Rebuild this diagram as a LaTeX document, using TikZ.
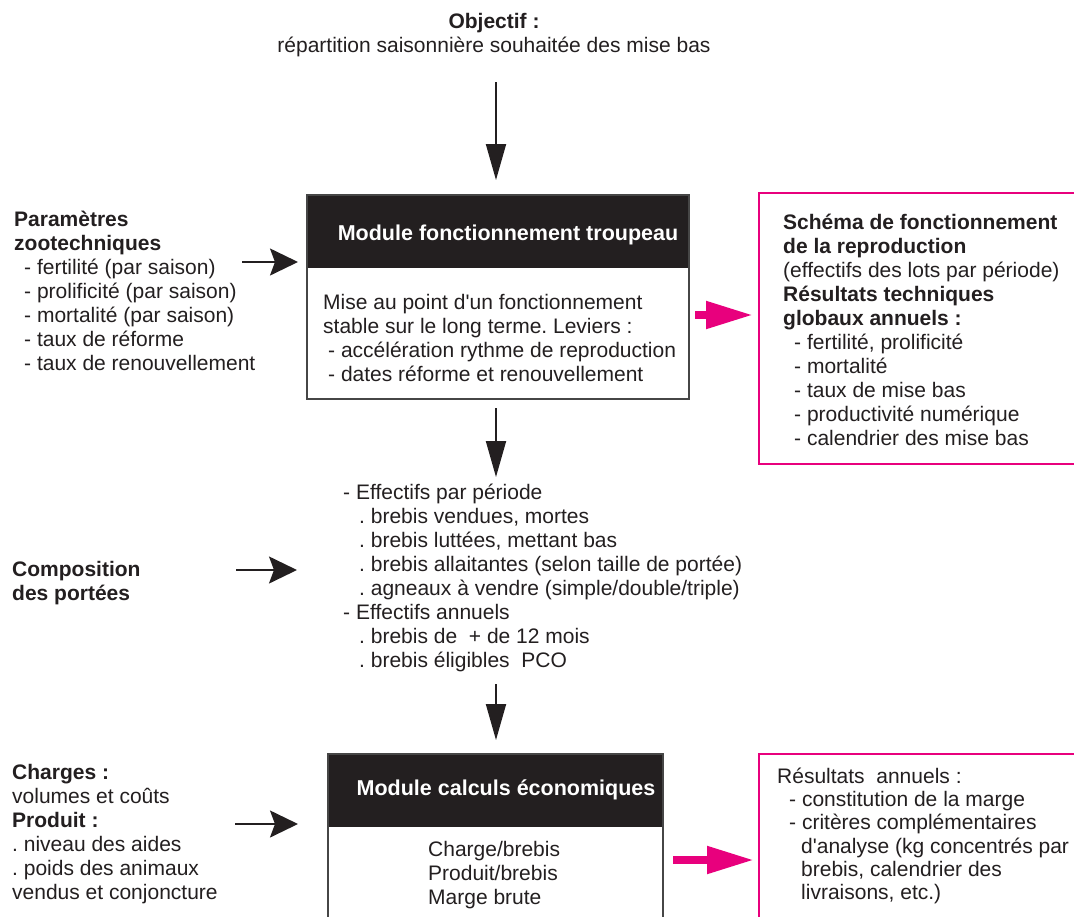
\documentclass[tikz,border=0pt]{standalone}
\usepackage{fontspec}
\setmainfont{Liberation Sans}
\usetikzlibrary{arrows.meta}
\definecolor{ink}{RGB}{35,31,32}
\definecolor{hotpink}{RGB}{232,0,125}
\definecolor{boxgray}{RGB}{70,70,70}
\font\apofont="Liberation Sans" at 21pt
\newcommand{\ap}{{\apofont\char39}}
\newcommand{\fs}{\fontsize{21}{24}\selectfont\frenchspacing}
\newcommand{\sr}{\rule{0pt}{19pt}}
\newcommand{\ind}[1]{\hspace*{#1pt}}
\begin{document}
\begin{tikzpicture}[x=1pt,y=-1pt,
 txt/.style={inner sep=0pt, anchor=north west, align=left, text=ink, font=\fs},
 ttl/.style={inner sep=0pt, anchor=base, text=white, font=\fontsize{21.5}{24}\selectfont\bfseries},
 hdr/.style={fill=ink, draw=ink, line width=1pt, anchor=north west, inner sep=0pt},
 box/.style={draw=boxgray, line width=1.5pt, anchor=north west, inner sep=0pt},
 pbox/.style={draw=hotpink, line width=1.5pt, anchor=north west, inner sep=0pt},
 barr/.style={draw=ink, line width=2pt, -{Stealth[length=28pt,width=27pt,inset=5pt]}},
 varr/.style={draw=ink, line width=2pt, -{Triangle[length=36pt,width=20pt]}},
 parr/.style={draw=hotpink, line width=8pt, -{Triangle[length=47pt,width=26pt]}},
]
\useasboundingbox (0,0) rectangle (1074,916);
\clip (0,0) rectangle (1074,916);
\fill[white] (0,0) rectangle (1074,916);

% objective
\node[txt, anchor=north, align=center] (obj) at (494,9) {\sr\textbf{Objectif :}\\répartition saisonnière souhaitée des mise bas};

% module 1
\node[hdr, minimum width=382pt, minimum height=73pt] (h1) at (306,194) {};
\node[box, minimum width=382pt, minimum height=204pt] (box1) at (306,194) {};
\node[ttl] (t1) at (508,240) {Module fonctionnement troupeau};
\node[txt] (b1) at (323,290) {\sr Mise au point d\ap un fonctionnement\\stable sur le long terme. Leviers :\\\ind{5}- accélération rythme de reproduction\\\ind{5}- dates réforme et renouvellement};

% left parameters
\node[txt] (param) at (14,207) {\sr\textbf{Paramètres}\\\textbf{zootechniques}\\\ind{10}- fertilité (par saison)\\\ind{10}- prolificité (par saison)\\\ind{10}- mortalité (par saison)\\\ind{10}- taux de réforme\\\ind{10}- taux de renouvellement};

% pink box 1
\node[pbox, minimum width=340pt, minimum height=271pt] (pb1) at (758,192) {};
\node[txt] (pt1) at (783,210) {\sr\textbf{Schéma de fonctionnement}\\\textbf{de la reproduction}\\(effectifs des lots par période)\\\textbf{Résultats techniques}\\\textbf{globaux annuels :}\\\ind{11}- fertilité, prolificité\\\ind{11}- mortalité\\\ind{11}- taux de mise bas\\\ind{11}- productivité numérique\\\ind{11}- calendrier des mise bas};

% middle list
\node[txt] (mid) at (343,480) {\sr - Effectifs par période\\\ind{16}. brebis vendues, mortes\\\ind{16}. brebis luttées, mettant bas\\\ind{16}. brebis allaitantes (selon taille de portée)\\\ind{16}. agneaux à vendre (simple/double/triple)\\- Effectifs annuels\\\ind{16}. brebis de\ \ + de 12 mois\\\ind{16}. brebis éligibles\ \ PCO};

\node[txt] (comp) at (12,557) {\sr\textbf{Composition}\\\textbf{des portées}};

% module 2
\node[hdr, minimum width=335pt, minimum height=73pt] (h2) at (327,753) {};
\node[box, minimum width=335pt, minimum height=200pt] (box2) at (327,753) {};
\node[ttl] (t2) at (506,795) {Module calculs économiques};
\node[txt] (b2) at (428,837) {\sr Charge/brebis\\Produit/brebis\\Marge brute};

\node[txt] (charges) at (12,760) {\sr\textbf{Charges :}\\volumes et coûts\\\textbf{Produit :}\\. niveau des aides\\. poids des animaux\\vendus et conjoncture};

% pink box 2
\node[pbox, minimum width=340pt, minimum height=200pt] (pb2) at (758,753) {};
\node[txt, font=\fontsize{21}{23.3}\selectfont\frenchspacing] (pt2) at (777,764) {\sr Résultats\ \ annuels :\\\ind{12}- constitution de la marge\\\ind{12}- critères complémentaires\\\ind{24}d\ap analyse (kg concentrés par\\\ind{24}brebis, calendrier des\\\ind{24}livraisons, etc.)};

% connectors
\coordinate (a1s) at (496,82);
\coordinate (a2s) at (496,408);
\coordinate (a3s) at (496,684);
\coordinate (l1s) at (242,262);
\coordinate (l2s) at (236,570);
\coordinate (l3s) at (235,824);
\coordinate (p1s) at (695,315);
\coordinate (p2s) at (673,860);
\coordinate (a2e) at (496,477);

\draw[varr, shorten >=14pt] (a1s) -- (a1s |- box1.north);
\draw[varr] (a2s) -- (a2e);
\draw[varr, shorten >=13pt] (a3s) -- (a3s |- box2.north);
\draw[barr, shorten >=8pt] (l1s) -- (l1s -| box1.west);
\draw[barr, shorten >=46pt] (l2s) -- (l2s -| mid.west);
\draw[barr, shorten >=29pt] (l3s) -- (l3s -| box2.west);
\draw[parr, shorten >=5pt] (p1s) -- (p1s -| pb1.west);
\draw[parr, shorten >=4pt] (p2s) -- (p2s -| pb2.west);
\end{tikzpicture}
\end{document}
